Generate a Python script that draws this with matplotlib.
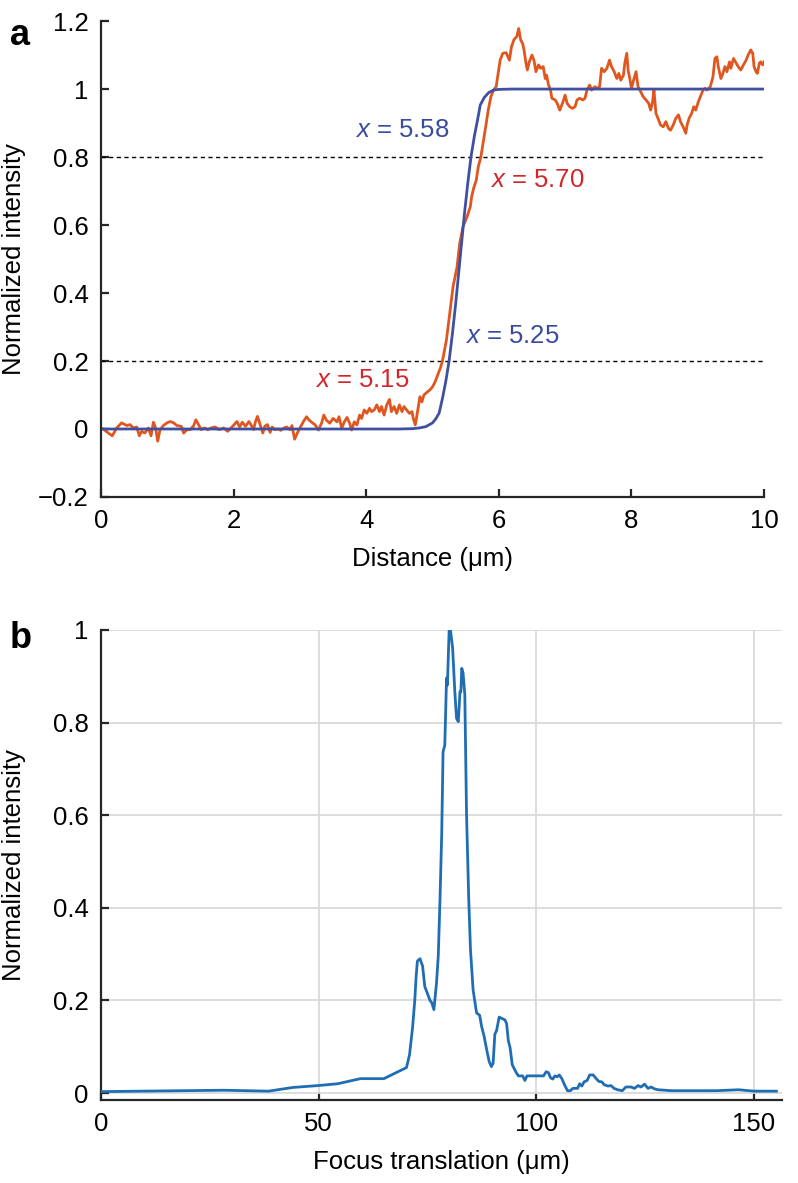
import matplotlib
matplotlib.use("Agg")
import matplotlib.pyplot as plt

plt.rcParams['font.family'] = ['Liberation Sans', 'DejaVu Sans']
plt.rcParams['mathtext.fontset'] = 'custom'
plt.rcParams['mathtext.rm'] = 'Liberation Sans'
plt.rcParams['mathtext.it'] = 'Liberation Sans:italic'

# ---- panel a: measured edge profile (orange) and fit (blue)
meas_x = [0.0, 0.035, 0.11, 0.17, 0.236, 0.31, 0.39, 0.437, 0.487, 0.538, 0.578, 0.613, 0.66, 0.714,
          0.754, 0.79, 0.824, 0.855, 0.89, 0.94, 0.995, 1.045, 1.095, 1.146, 1.21, 1.246, 1.297, 1.347,
          1.398, 1.43, 1.47, 1.51, 1.56, 1.61, 1.66, 1.72, 1.78, 1.85, 1.91, 1.96, 2.01, 2.05, 2.09,
          2.13, 2.18, 2.23, 2.26, 2.30, 2.33, 2.36, 2.40, 2.44, 2.47, 2.51, 2.55, 2.58, 2.62, 2.67,
          2.71, 2.76, 2.80, 2.85, 2.88, 2.92, 2.96, 3.0,
          3.05, 3.10, 3.14, 3.17, 3.23, 3.28, 3.33, 3.36, 3.40, 3.45, 3.50, 3.56, 3.59, 3.63, 3.67,
          3.71, 3.75, 3.78, 3.82, 3.86, 3.90, 3.93, 3.97, 4.01, 4.05, 4.08, 4.12, 4.16, 4.20, 4.23,
          4.27, 4.31, 4.35, 4.38, 4.42, 4.46, 4.50, 4.54, 4.57, 4.61, 4.65, 4.69, 4.71, 4.74, 4.76,
          4.79, 4.81, 4.84, 4.87, 4.91, 4.96, 5.00, 5.04, 5.08, 5.12, 5.15,
          5.21, 5.26, 5.31, 5.37, 5.41, 5.46, 5.52, 5.57, 5.59, 5.62, 5.66, 5.69, 5.73,
          5.77, 5.81, 5.84, 5.88, 5.92, 5.96, 5.99, 6.02, 6.06, 6.11, 6.16, 6.19, 6.23, 6.27, 6.30,
          6.33, 6.36, 6.38, 6.41, 6.43, 6.46, 6.50, 6.53, 6.56, 6.60, 6.63, 6.67, 6.70, 6.72, 6.75,
          6.78, 6.80, 6.85, 6.88, 6.92, 6.96, 7.0, 7.03, 7.07, 7.11, 7.15, 7.18, 7.22, 7.27, 7.30,
          7.33, 7.37, 7.40, 7.45, 7.48, 7.52, 7.55, 7.59, 7.63, 7.67, 7.70, 7.74, 7.78, 7.81, 7.84,
          7.88, 7.90, 7.93, 7.95, 7.98, 8.00, 8.04, 8.07, 8.10, 8.14, 8.18, 8.22, 8.26, 8.29, 8.32,
          8.34, 8.37, 8.41, 8.44, 8.48, 8.52, 8.56, 8.59, 8.63, 8.67, 8.71, 8.74, 8.78, 8.82, 8.84,
          8.87, 8.91, 8.94, 8.97, 9.01, 9.05, 9.08, 9.11, 9.14, 9.19, 9.23, 9.26, 9.29, 9.31, 9.35,
          9.38, 9.41, 9.44, 9.48, 9.50, 9.54, 9.58, 9.61, 9.65, 9.69, 9.73, 9.76, 9.80, 9.83, 9.85,
          9.88, 9.90, 9.93, 9.95, 9.98, 10.0]
meas_y = [0.0, 0.0, -0.012, -0.02, 0.003, 0.018, 0.01, 0.013, 0.003, 0.006, -0.02, -0.007, -0.012, 0.003,
          -0.02, 0.02, 0.003, -0.036, -0.002, 0.01, 0.018, 0.022, 0.018, 0.01, 0.008, -0.012, -0.002, -0.002,
          0.01, 0.027, 0.013, -0.002, 0.003, -0.002, 0.003, 0.006, -0.002, 0.003, -0.007, 0.003, 0.013, 0.022, 0.006,
          0.02, 0.008, 0.022, 0.013, -0.002, 0.022, 0.037, 0.013, -0.012, 0.008, 0.013, -0.01, 0.006, -0.002, 0.0,
          -0.004, 0.003, 0.006, -0.002, 0.01, -0.03, -0.012, 0.003,
          0.021, 0.036, 0.026, 0.021, 0.012, -0.003, 0.019, 0.041, 0.026, 0.017, 0.031, 0.021, 0.036, 0.002, 0.021,
          0.034, 0.017, -0.003, 0.021, 0.012, 0.041, 0.031, 0.056, 0.046, 0.061, 0.051, 0.056, 0.071, 0.051, 0.066,
          0.041, 0.071, 0.087, 0.051, 0.066, 0.046, 0.071, 0.051, 0.066, 0.056, 0.046, 0.051, 0.031, 0.012, 0.034,
          0.071, 0.095, 0.08, 0.1, 0.107, 0.115, 0.124, 0.139, 0.16, 0.18, 0.2,
          0.262, 0.34, 0.419, 0.477, 0.546, 0.595, 0.624, 0.654, 0.683, 0.708, 0.732, 0.771, 0.801,
          0.85, 0.899, 0.938, 0.977, 0.997, 1.007, 1.046, 1.085, 1.105, 1.107, 1.085, 1.124, 1.146, 1.154, 1.178,
          1.144, 1.134, 1.115, 1.076, 1.056, 1.08, 1.1, 1.085, 1.051, 1.071, 1.061, 1.066, 1.031, 1.041, 1.012,
          0.997, 0.973, 0.968, 0.958, 0.938, 0.958, 0.982, 0.958, 0.948, 0.943, 0.948, 0.968, 0.973, 0.968, 0.973,
          0.997, 1.012, 0.997, 1.007, 1.002, 1.007, 1.061, 1.051, 1.061, 1.085, 1.066, 1.051, 1.031, 1.046, 1.026,
          1.041, 1.076, 1.105, 1.056, 1.026, 1.002, 1.031, 1.051, 1.007, 0.992, 0.977, 0.968, 0.958, 0.938, 0.963,
          0.997, 0.929, 0.909, 0.894, 0.889, 0.904, 0.884, 0.879, 0.894, 0.914, 0.924, 0.904, 0.889, 0.87, 0.894,
          0.914, 0.929, 0.948, 0.938, 0.963, 0.982, 0.997, 1.002, 0.997, 1.007, 1.036, 1.09, 1.095, 1.066, 1.031,
          1.046, 1.066, 1.051, 1.08, 1.061, 1.09, 1.076, 1.066, 1.056, 1.071, 1.085, 1.1, 1.115, 1.105, 1.066,
          1.051, 1.046, 1.076, 1.08, 1.071, 1.08]

fit_x = [0, 4.5, 4.7, 4.8, 4.9, 5.0, 5.05, 5.1, 5.15, 5.2, 5.25, 5.3, 5.35, 5.415, 5.48, 5.53, 5.58,
         5.63, 5.68, 5.72, 5.78, 5.85, 5.92, 6.0, 6.2, 10]
fit_y = [0, 0, 0.001, 0.003, 0.007, 0.018, 0.03, 0.047, 0.09, 0.14, 0.2, 0.28, 0.37, 0.5, 0.63, 0.72, 0.8,
         0.86, 0.91, 0.953, 0.975, 0.99, 0.997, 0.999, 1.0, 1.0]

a_ticks = [-0.2, 0, 0.2, 0.4, 0.6, 0.8, 1.0, 1.2]
a_ticklabels = ['\u22120.2', '0', '0.2', '0.4', '0.6', '0.8', '1', '1.2']
levels = [0.2, 0.8]

# ---- panel b: intensity vs focus translation
focus_x = [0.0, 28.2, 38.5, 44.1, 49.8, 54.4, 59.6, 65.0, 70.2, 70.9, 71.6, 72.1, 72.4, 72.7, 73.3, 73.9,
           74.4, 75.6, 76.0, 76.5, 77.1, 77.5, 77.9, 78.3, 78.6, 79.0, 79.4, 79.6, 80.0, 80.3, 80.8,
           81.3, 81.7, 82.1, 82.5, 82.7, 82.9, 83.2, 83.6, 84.0, 84.5, 84.9, 85.5, 86.3, 87.0, 87.5,
           88.0, 88.7, 89.2, 89.7, 90.1, 90.5, 90.9, 91.5, 92.1, 92.8, 93.2, 93.6, 94.0, 94.5, 95.3,
           95.9, 96.9, 97.4, 97.9, 101.7, 102.3, 102.8, 103.3, 103.8, 104.3, 104.8, 105.3, 105.9, 106.6,
           107.2, 107.9, 108.4, 109.5, 110.0, 110.5, 111.0, 111.7, 112.3, 113.1, 113.8, 114.4, 115.1,
           115.6, 116.5, 117.2, 117.9, 118.7, 119.8, 120.6, 121.8, 122.6, 123.4, 124.1, 124.9, 125.7,
           126.4, 127.2, 128.0, 131.1, 141.4, 146.5, 150.1, 155.2]
focus_y = [0.003, 0.006, 0.004, 0.012, 0.016, 0.020, 0.031, 0.031, 0.055, 0.083, 0.142, 0.2, 0.25, 0.285,
           0.29, 0.274, 0.23, 0.20, 0.195, 0.18, 0.238, 0.296, 0.419, 0.563, 0.737, 0.751, 0.896, 0.881,
           1.0, 1.0, 0.961, 0.867, 0.809, 0.802, 0.867, 0.867, 0.917, 0.907, 0.86, 0.6, 0.419, 0.31,
           0.223, 0.173, 0.168, 0.142, 0.124, 0.09, 0.068, 0.057, 0.064, 0.127, 0.135, 0.164, 0.161,
           0.158, 0.15, 0.113, 0.098, 0.061, 0.046, 0.037, 0.037, 0.027, 0.037, 0.037, 0.046, 0.044,
           0.033, 0.03, 0.037, 0.035, 0.039, 0.031, 0.016, 0.005, 0.005, 0.010, 0.010, 0.020, 0.015,
           0.024, 0.027, 0.039, 0.039, 0.031, 0.025, 0.024, 0.018, 0.015, 0.016, 0.010, 0.007, 0.005,
           0.013, 0.013, 0.010, 0.016, 0.013, 0.019, 0.010, 0.013, 0.009, 0.007, 0.005, 0.005, 0.007,
           0.004, 0.004]
b_xticks = [0, 50, 100, 150]
b_yticks = [0, 0.2, 0.4, 0.6, 0.8, 1.0]
b_yticklabels = ['0', '0.2', '0.4', '0.6', '0.8', '1']

c_meas = '#E0561F'
c_fit = '#3F4FA2'
c_red_txt = '#D3262B'
c_blue_txt = '#3A4C9E'
c_b = '#1F6EB4'
spine_c = '#262626'
fs = 18.5

fig = plt.figure(figsize=(7.98, 11.83), dpi=100)

# panel a
ax = fig.add_axes([0.1266, 0.5799, 0.8308, 0.4023])
for y in levels:
    ax.plot([0, 10], [y, y], color='black', lw=1.0, dashes=(3, 2.5))
ax.plot(meas_x, meas_y, color=c_meas, lw=2.0)
ax.plot(fit_x, fit_y, color=c_fit, lw=2.0)
ax.set_xlim(0, 10)
ax.set_ylim(-0.2, 1.2)
ax.set_xticks(range(0, 11, 2))
ax.set_yticks(a_ticks)
ax.set_yticklabels(a_ticklabels)
ax.set_xlabel('Distance (\u03bcm)', fontsize=fs, labelpad=10)
ax.set_ylabel('Normalized intensity', fontsize=fs)
ax.yaxis.set_label_coords(-0.113, 0.5)
ax.text(3.83, 0.879, r'$x$ = 5.58', color=c_blue_txt, fontsize=fs, va='center', ha='left')
ax.text(5.87, 0.732, r'$x$ = 5.70', color=c_red_txt, fontsize=fs, va='center', ha='left')
ax.text(5.49, 0.274, r'$x$ = 5.25', color=c_blue_txt, fontsize=fs, va='center', ha='left')
ax.text(3.23, 0.144, r'$x$ = 5.15', color=c_red_txt, fontsize=fs, va='center', ha='left')

# panel b
bx = fig.add_axes([0.1266, 0.0702, 0.8534, 0.3973])
bx.plot(focus_x, focus_y, color=c_b, lw=2.0, zorder=3)
bx.set_xlim(0, 156.5)
bx.set_ylim(-0.015, 1.0)
bx.set_xticks(b_xticks)
bx.set_yticks(b_yticks)
bx.set_yticklabels(b_yticklabels)
bx.grid(True, color='#DADADA', lw=1.3)
bx.set_axisbelow(True)
bx.set_xlabel('Focus translation (\u03bcm)', fontsize=fs, labelpad=10)
bx.set_ylabel('Normalized intensity', fontsize=fs)
bx.yaxis.set_label_coords(-0.11, 0.5)

for a in (ax, bx):
    for s in ('top', 'right'):
        a.spines[s].set_visible(False)
    for s in ('left', 'bottom'):
        a.spines[s].set_color(spine_c)
        a.spines[s].set_linewidth(1.6)
    a.tick_params(direction='in', length=6, width=1.6, color=spine_c,
                  labelsize=fs, pad=9)

fig.text(0.012, 0.985, 'a', fontsize=26, fontweight='bold', va='top', ha='left')
fig.text(0.012, 0.475, 'b', fontsize=26, fontweight='bold', va='top', ha='left')

fig.savefig('out.png', dpi=100)
